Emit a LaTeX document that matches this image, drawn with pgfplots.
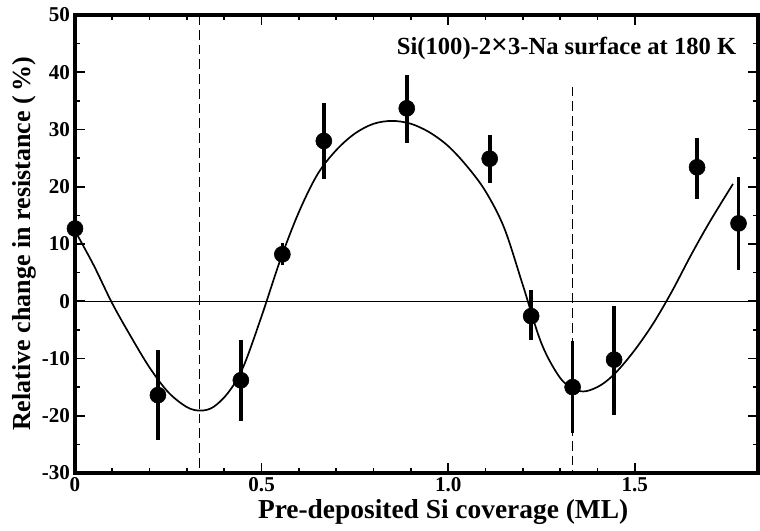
\documentclass[border=0pt]{standalone}
\usepackage{fontspec}
\setmainfont{Liberation Serif}
\usepackage{pgfplots}
\pgfplotsset{compat=1.18}
\usetikzlibrary{calc}

\begin{document}
\begin{tikzpicture}[x=1cm,y=1cm]
\begin{axis}[
  name=ax, scale only axis,
  width=17.075cm, height=11.45cm,
  xmin=0, xmax=1.83, ymin=-30, ymax=50,
  xtick={0,0.5,1,1.5}, xticklabels={0,0.5,1.0,1.5},
  minor x tick num=4,
  ytick={-30,-20,...,50}, yticklabels={-30,-20,-10,0,10,20,30,40,50},
  minor y tick num=1,
  tick align=inside,
  major tick length=0.25cm, minor tick length=0.13cm,
  every tick/.style={black, line width=1.2pt},
  axis line style={line width=2.6pt},
  /pgf/number format/assume math mode=true,
  tick label style={font=\fontsize{15}{17}\selectfont\bfseries},
  xlabel={Pre-deposited Si coverage (ML)},
  ylabel={Relative change in resistance (\,\%)},
  xlabel style={font=\fontsize{19.5}{22}\selectfont\bfseries, at={(axis description cs:0.539,-0.085)}, anchor=center},
  ylabel style={font=\fontsize{18.5}{22}\selectfont\bfseries, at={(axis description cs:-0.0735,0.5)}, anchor=center},
  clip=false,
]
% zero line
\addplot[black, line width=0.6pt] coordinates {(0,0) (1.83,0)};
% dashed markers at 1/3 and 4/3 ML
\addplot[black, line width=0.9pt, dash pattern=on 7pt off 3.5pt] coordinates {(0.3333,50) (0.3333,-30)};
\addplot[black, line width=0.9pt, dash pattern=on 7pt off 3.5pt] coordinates {(1.3333,37.5) (1.3333,-30)};
% fit curve
\addplot[black, line width=1.2pt, smooth, tension=0.55] coordinates {
  (0,12.3) (0.05,6.3) (0.10,-0.4) (0.15,-6.2) (0.20,-11.6) (0.25,-15.9)
  (0.30,-18.5) (0.336,-19.1) (0.37,-18.5) (0.41,-16.0) (0.45,-11.6) (0.50,-2.6)
  (0.55,7.2) (0.60,15.6) (0.65,22.2) (0.70,26.4) (0.75,29.3) (0.80,31.0)
  (0.85,31.5) (0.90,31.0) (0.95,29.5) (1.00,27.1) (1.05,23.6) (1.10,19.2)
  (1.15,12.8) (1.20,2.8) (1.25,-7.4) (1.30,-13.4) (1.34,-15.4) (1.37,-15.7)
  (1.41,-14.6) (1.45,-12.4) (1.50,-8.5) (1.55,-3.8) (1.60,1.8) (1.65,8.0)
  (1.70,13.8) (1.763,20.5)
};
% data with error bars
\addplot[black, only marks, mark=*, mark size=0.2cm,
  error bars/.cd, y dir=both, y explicit, error mark=none,
  error bar style={line width=2.6pt}] coordinates {
  (0,12.7)      += (0,5.8) -= (0,5.5)
  (0.2222,-16.4) += (0,7.8) -= (0,7.9)
  (0.4444,-13.8) += (0,7.1) -= (0,7.1)
  (0.5556,8.2)  += (0,2.0) -= (0,1.9)
  (0.6667,28.0) += (0,6.6) -= (0,6.6)
  (0.8889,33.7) += (0,5.8) -= (0,6.1)
  (1.1111,24.9) += (0,4.1) -= (0,4.2)
  (1.2222,-2.6) += (0,4.5) -= (0,4.2)
  (1.3333,-15.0) += (0,8.1) -= (0,8.1)
  (1.4444,-10.2) += (0,9.3) -= (0,9.6)
  (1.6667,23.4) += (0,5.2) -= (0,5.5)
  (1.7778,13.6) += (0,8.1) -= (0,8.1)
};
\node[anchor=east, font=\fontsize{17.5}{20}\selectfont\bfseries] at (axis cs:1.785,44.2)
  {Si(100)-2{\fontsize{21}{20}\selectfont×}3-Na surface at 180 K};
\end{axis}
\pgfresetboundingbox
\path[use as bounding box] ($(ax.south west)+(-1.875cm,-1.425cm)$) rectangle ($(ax.north east)+(0.05cm,0.375cm)$);
\end{tikzpicture}
\end{document}
